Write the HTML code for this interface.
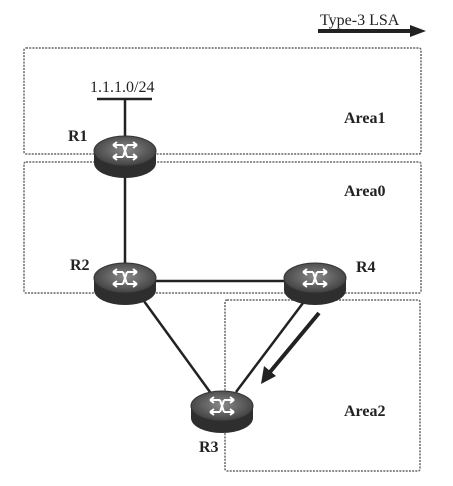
<!DOCTYPE html>
<html><head><meta charset="utf-8"><style>
html,body{margin:0;padding:0;background:#fff;}
</style></head><body>
<svg width="453" height="481" viewBox="0 0 453 481" xmlns="http://www.w3.org/2000/svg" font-family="Liberation Serif, serif">
<defs>
<radialGradient id="g" cx="0.5" cy="0.45" r="0.6">
<stop offset="0" stop-color="#8a8a8a"/><stop offset="1" stop-color="#3a3a3a"/>
</radialGradient>
<g id="rt">
<path d="M-31,0 L-31,12 A31,15 0 0 0 31,12 L31,0 Z" fill="#2e2e2e"/>
<ellipse cx="0" cy="0" rx="31" ry="15" fill="url(#g)" stroke="#333" stroke-width="1"/>
<g stroke="#fff" stroke-width="2" fill="none">
<path d="M-12,-6 L-2,-6 M-12,-6 L-8,-9 M-12,-6 L-8,-3"/>
<path d="M2,-6 L12,-6 M12,-6 L8,-9 M12,-6 L8,-3"/>
<path d="M-12,6 L-2,6 M-12,6 L-8,3 M-12,6 L-8,9"/>
<path d="M2,6 L12,6 M12,6 L8,3 M12,6 L8,9"/>
<path d="M-2,-6 L2,6 M2,-6 L-2,6"/>
</g>
</g>
</defs>
<g fill="none" stroke="#666" stroke-width="1.5" stroke-dasharray="2,1.2">
<rect x="24" y="48" width="397" height="106" rx="2"/>
<rect x="24" y="162" width="397" height="131" rx="2"/>
<rect x="225" y="300" width="195" height="171" rx="2"/>
</g>
<text x="320" y="25" font-size="16" fill="#222">Type-3 LSA</text>
<line x1="318" y1="31" x2="412" y2="31" stroke="#222" stroke-width="4"/>
<polygon points="410,25 426,31 410,37" fill="#222"/>
<text x="90" y="92" font-size="16" fill="#222">1.1.1.0/24</text>
<g stroke="#222" stroke-width="2.5">
<line x1="97" y1="99" x2="152" y2="99"/>
<line x1="125" y1="99" x2="125" y2="140"/>
<line x1="125" y1="165" x2="125" y2="265"/>
<line x1="150" y1="281" x2="290" y2="281"/>
<line x1="141" y1="297" x2="210" y2="392"/>
<line x1="306" y1="299" x2="236" y2="392"/>
</g>
<line x1="319" y1="313" x2="270" y2="372" stroke="#222" stroke-width="4"/>
<polygon points="261,384 264,366 276,376" fill="#222"/>
<use href="#rt" x="125" y="151"/>
<use href="#rt" x="125" y="278"/>
<use href="#rt" x="315" y="278"/>
<use href="#rt" x="222" y="406"/>
<g font-size="16" font-weight="bold" fill="#222">
<text x="68" y="141">R1</text>
<text x="70" y="270">R2</text>
<text x="356" y="272">R4</text>
<text x="199" y="452">R3</text>
<text x="344" y="123">Area1</text>
<text x="344" y="196">Area0</text>
<text x="344" y="416">Area2</text>
</g>
</svg>
</body></html>
